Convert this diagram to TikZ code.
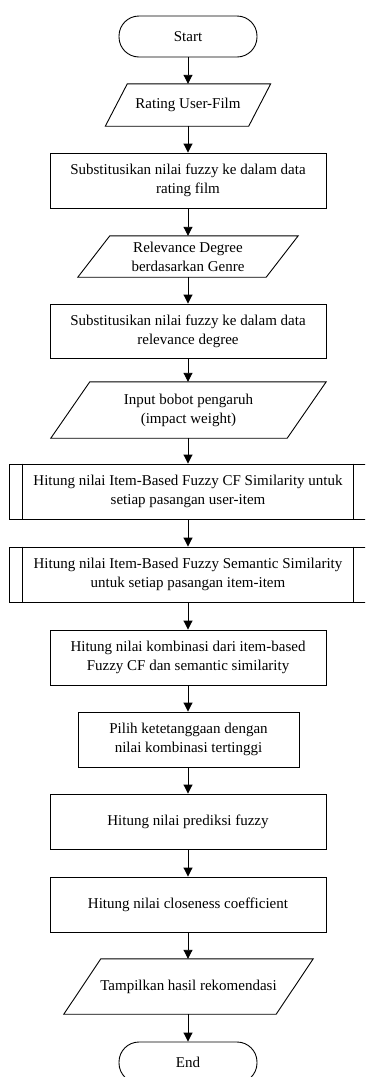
\documentclass[tikz,border=0pt]{standalone}
\usepackage{fontspec}
\setmainfont{Liberation Serif}
\usetikzlibrary{arrows.meta}
\tikzset{
  txt/.style={font=\fontsize{15}{19}\selectfont, align=center, inner sep=0pt, text=black},
  box/.style={txt, draw=black, line width=0.9pt, rectangle, minimum height=55pt},
  term/.style={txt, draw=black, line width=0.9pt, rectangle, rounded corners=20pt, minimum width=138pt, minimum height=41pt},
  io/.style={txt, draw=none, rectangle},
  ioline/.style={draw=black, line width=0.9pt},
  arr/.style={draw=black, line width=0.9pt, -{Triangle[width=9pt,length=9pt]}}
}
\begin{document}
\begin{tikzpicture}[x=1pt,y=-1pt]
\useasboundingbox (0,0) rectangle (365,1077);
\clip (0,0) rectangle (365,1077);

\node[term] (start) at (188,36.5) {Start};

\node[io, minimum width=143pt, minimum height=42pt] (in1) at (188,105) {Rating User-Film};
\draw[ioline] ([xshift=11pt]in1.north west) -- ([xshift=11pt]in1.north east) -- ([xshift=-11pt]in1.south east) -- ([xshift=-11pt]in1.south west) -- cycle;

\node[box, minimum width=276pt] (p1) at (188,180.5) {Substitusikan nilai fuzzy ke dalam data\\rating film};

\node[io, minimum width=188pt, minimum height=41pt] (in2) at (188,256.5) {Relevance Degree\\berdasarkan Genre};
\draw[ioline] ([xshift=16pt]in2.north west) -- ([xshift=16pt]in2.north east) -- ([xshift=-16pt]in2.south east) -- ([xshift=-16pt]in2.south west) -- cycle;

\node[box, minimum width=276pt, minimum height=54pt] (p2) at (188,331) {Substitusikan nilai fuzzy ke dalam data\\relevance degree};

\node[io, minimum width=236pt, minimum height=56pt] (in3) at (188.5,410) {Input bobot pengaruh\\(impact weight)};
\draw[ioline] ([xshift=19.5pt]in3.north west) -- ([xshift=19.5pt]in3.north east) -- ([xshift=-19.5pt]in3.south east) -- ([xshift=-19.5pt]in3.south west) -- cycle;

\node[box, minimum width=358pt] (pp1) at (188,491.5) {Hitung nilai Item-Based Fuzzy CF Similarity untuk\\setiap pasangan user-item};
\draw[ioline] ([xshift=14pt]pp1.north west) -- ([xshift=14pt]pp1.south west);
\draw[ioline] ([xshift=-14pt]pp1.north east) -- ([xshift=-14pt]pp1.south east);

\node[box, minimum width=358pt] (pp2) at (188,574.5) {Hitung nilai Item-Based Fuzzy Semantic Similarity\\untuk setiap pasangan item-item};
\draw[ioline] ([xshift=14pt]pp2.north west) -- ([xshift=14pt]pp2.south west);
\draw[ioline] ([xshift=-14pt]pp2.north east) -- ([xshift=-14pt]pp2.south east);

\node[box, minimum width=276pt] (p3) at (188,657.5) {Hitung nilai kombinasi dari item-based\\Fuzzy CF dan semantic similarity};

\node[box, minimum width=221pt] (p4) at (188.5,739.5) {Pilih ketetanggaan dengan\\nilai kombinasi tertinggi};

\node[box, minimum width=276pt] (p5) at (188,821.5) {Hitung nilai prediksi fuzzy};

\node[box, minimum width=276pt] (p6) at (188,904.5) {Hitung nilai closeness coefficient};

\node[io, minimum width=212pt, minimum height=55pt] (out) at (188.5,986.5) {Tampilkan hasil rekomendasi};
\draw[ioline] ([xshift=18.5pt]out.north west) -- ([xshift=18.5pt]out.north east) -- ([xshift=-18.5pt]out.south east) -- ([xshift=-18.5pt]out.south west) -- cycle;

\node[term] (end) at (188,1062.5) {End};

\draw[arr] (start.south) -- (in1.north -| start.south);
\draw[arr] (in1.south -| start.south) -- (p1.north -| start.south);
\draw[arr] (p1.south -| start.south) -- (in2.north -| start.south);
\draw[arr] (in2.south -| start.south) -- (p2.north -| start.south);
\draw[arr] (p2.south -| start.south) -- (in3.north -| start.south);
\draw[arr] (in3.south -| start.south) -- (pp1.north -| start.south);
\draw[arr] (pp1.south -| start.south) -- (pp2.north -| start.south);
\draw[arr] (pp2.south -| start.south) -- (p3.north -| start.south);
\draw[arr] (p3.south -| start.south) -- (p4.north -| start.south);
\draw[arr] (p4.south -| start.south) -- (p5.north -| start.south);
\draw[arr] (p5.south -| start.south) -- (p6.north -| start.south);
\draw[arr] (p6.south -| start.south) -- (out.north -| start.south);
\draw[arr] (out.south -| start.south) -- (end.north);
\end{tikzpicture}
\end{document}
